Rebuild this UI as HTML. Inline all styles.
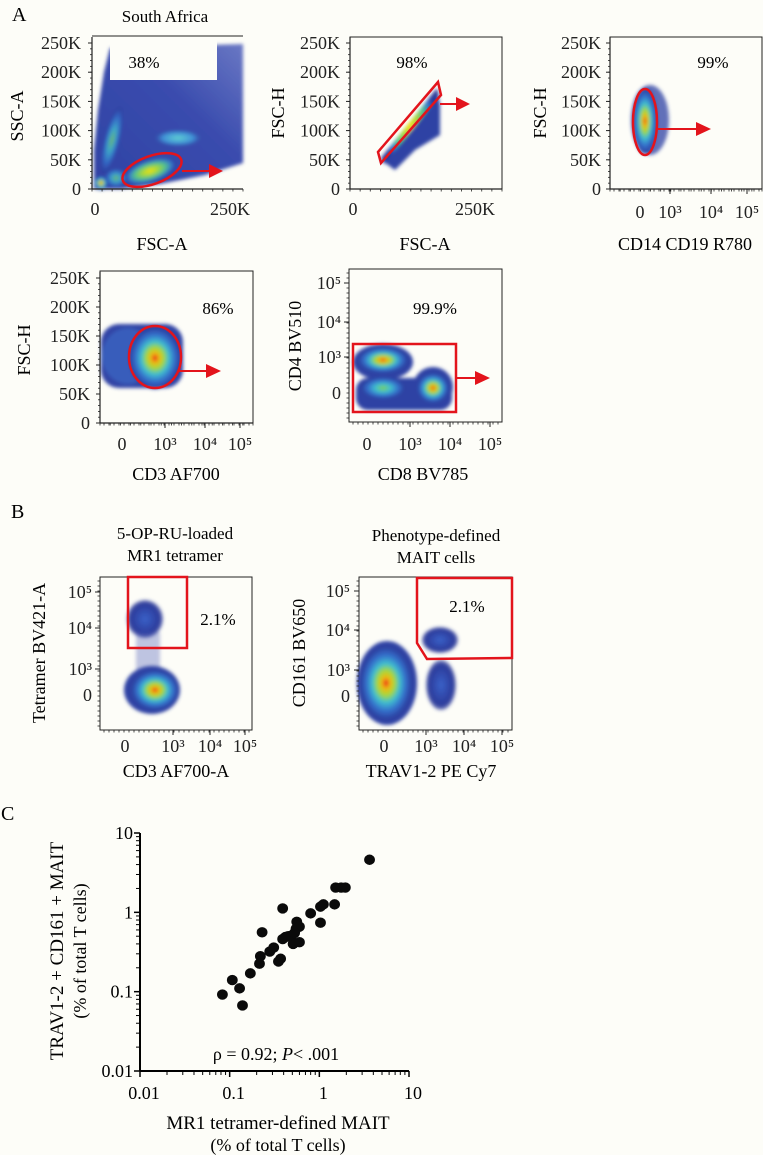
<!DOCTYPE html>
<html><head><meta charset="utf-8">
<style>
html,body{margin:0;padding:0;background:#fdfdf8;}
svg{display:block;font-family:"Liberation Serif",serif;}
</style></head>
<body>
<svg id="fig" width="763" height="1155" viewBox="0 0 763 1155" xmlns="http://www.w3.org/2000/svg">
<defs>
  <filter id="blur" x="-20%" y="-20%" width="140%" height="140%"><feGaussianBlur stdDeviation="1.8"/></filter>
  <radialGradient id="heat"><stop offset="0" stop-color="#e8141c"/><stop offset="0.15" stop-color="#f0b810"/><stop offset="0.33" stop-color="#a8d838"/><stop offset="0.52" stop-color="#40c0d0"/><stop offset="0.75" stop-color="#3470cc"/><stop offset="1" stop-color="#2b3a9a"/></radialGradient>
  <radialGradient id="yel"><stop offset="0" stop-color="#f5e010"/><stop offset="0.3" stop-color="#a8d838"/><stop offset="0.6" stop-color="#50c090"/><stop offset="0.85" stop-color="#3470cc"/><stop offset="1" stop-color="#2b3a9a"/></radialGradient>
  <radialGradient id="cool"><stop offset="0" stop-color="#80d050"/><stop offset="0.35" stop-color="#40c0d0"/><stop offset="0.7" stop-color="#3470cc"/><stop offset="1" stop-color="#2b3a9a"/></radialGradient>
  <radialGradient id="cyan"><stop offset="0" stop-color="#60d0d0"/><stop offset="0.6" stop-color="#4090d8"/><stop offset="1" stop-color="#2b3a9a" stop-opacity="0"/></radialGradient>
  <radialGradient id="blue"><stop offset="0" stop-color="#3a62c8"/><stop offset="0.8" stop-color="#2b3a9a"/><stop offset="1" stop-color="#2b3a9a" stop-opacity="0.6"/></radialGradient>
  <linearGradient id="fade" x1="0" y1="1" x2="1" y2="0"><stop offset="0" stop-color="#2f42a4"/><stop offset="0.6" stop-color="#3a4cae"/><stop offset="1" stop-color="#6a78c4"/></linearGradient>
</defs>

<text x="12" y="21" font-size="20">A</text>
<text x="165" y="22" font-size="17" text-anchor="middle">South Africa</text>
<text x="11" y="518" font-size="20">B</text>
<text x="1" y="820" font-size="20">C</text>

<!-- Plot 1 -->
<g>
  <line x1="92" y1="36" x2="243" y2="36" stroke="#222" stroke-width="1"/>
  <g filter="url(#blur)">
    <polygon points="94,189 94,150 98,110 104,72 110,48 243,44 243,163 205,175 160,184 120,189" fill="url(#fade)"/>
    <ellipse cx="112" cy="140" rx="8" ry="34" transform="rotate(14 112 140)" fill="url(#cool)" opacity="0.8"/>
    <ellipse cx="178" cy="138" rx="26" ry="9" fill="url(#cyan)"/>
    <ellipse cx="150" cy="171" rx="27" ry="11" transform="rotate(-18 150 171)" fill="url(#yel)"/>
    <ellipse cx="116" cy="178" rx="12" ry="10" fill="url(#cool)" opacity="0.8"/>
    <circle cx="101" cy="183" r="7" fill="url(#heat)"/>
  </g>
  <rect x="110" y="37" width="107" height="43" fill="#fdfdf8"/>
  <text x="144" y="68" font-size="17" text-anchor="middle">38%</text>
  <ellipse cx="152" cy="170" rx="31" ry="14" transform="rotate(-20 152 170)" fill="none" stroke="#e3141c" stroke-width="2.5"/>
  <g><line x1="182" y1="171" x2="211" y2="171" stroke="#e3141c" stroke-width="2"/><polygon points="209,164 223,171 209,178" fill="#e3141c"/></g>
  <text transform="translate(23 116) rotate(-90)" font-size="18" text-anchor="middle">SSC-A</text>
  <text x="162" y="250" font-size="18" text-anchor="middle">FSC-A</text>
</g>

<!-- Plot 2 -->
<g>
  <rect x="350" y="37" width="152" height="152" fill="none" stroke="#222" stroke-width="1"/>
  <g filter="url(#blur)">
    <polygon points="381,160 437,92 440,104 440,135 415,150 395,170" fill="#2f42a4"/>
    <polygon points="381,158 437,88 439,96 384,164" fill="url(#yel)"/>
  </g>
  <polygon points="378,152 438,82 441,95 381,163" fill="none" stroke="#e3141c" stroke-width="2.5"/>
  <g><line x1="440" y1="104" x2="458" y2="104" stroke="#e3141c" stroke-width="2"/><polygon points="456,97 470,104 456,111" fill="#e3141c"/></g>
  <text x="412" y="68" font-size="17" text-anchor="middle">98%</text>
  <text transform="translate(284 113) rotate(-90)" font-size="18" text-anchor="middle">FSC-H</text>
  <text x="425" y="250" font-size="18" text-anchor="middle">FSC-A</text>
</g>

<!-- Plot 3 -->
<g>
  <rect x="610" y="37" width="152" height="152" fill="none" stroke="#222" stroke-width="1"/>
  <g filter="url(#blur)">
    <ellipse cx="650" cy="120" rx="19" ry="35" fill="#2f42a4" opacity="0.75"/>
    <ellipse cx="645" cy="121" rx="12" ry="33" fill="url(#heat)"/>
  </g>
  <ellipse cx="645" cy="122" rx="12" ry="33" fill="none" stroke="#e3141c" stroke-width="2.5"/>
  <g><line x1="657" y1="129" x2="698" y2="129" stroke="#e3141c" stroke-width="2"/><polygon points="696,122 711,129 696,136" fill="#e3141c"/></g>
  <text x="713" y="68" font-size="17" text-anchor="middle">99%</text>
  <text transform="translate(546 113) rotate(-90)" font-size="18" text-anchor="middle">FSC-H</text>
  <text x="685" y="250" font-size="18" text-anchor="middle">CD14 CD19 R780</text>
</g>

<!-- Plot 4 -->
<g>
  <rect x="100" y="271" width="153" height="152" fill="none" stroke="#222" stroke-width="1"/>
  <g filter="url(#blur)">
    <rect x="101" y="324" width="82" height="64" rx="18" fill="#3344a6"/>
    <ellipse cx="128" cy="356" rx="26" ry="28" fill="#3a72cc" opacity="0.55"/>
    <ellipse cx="155" cy="358" rx="26" ry="31" fill="url(#heat)"/>
  </g>
  <ellipse cx="155" cy="357" rx="26" ry="31" fill="none" stroke="#e3141c" stroke-width="2.5"/>
  <g><line x1="178" y1="371" x2="208" y2="371" stroke="#e3141c" stroke-width="2"/><polygon points="206,364 221,371 206,378" fill="#e3141c"/></g>
  <text x="218" y="314" font-size="17" text-anchor="middle">86%</text>
  <text transform="translate(30 350) rotate(-90)" font-size="18" text-anchor="middle">FSC-H</text>
  <text x="176" y="480" font-size="18" text-anchor="middle">CD3 AF700</text>
</g>

<!-- Plot 5 -->
<g>
  <rect x="349" y="269" width="153" height="153" fill="none" stroke="#222" stroke-width="1"/>
  <g filter="url(#blur)">
    <ellipse cx="383" cy="362" rx="30" ry="18" fill="#2f42a4"/>
    <rect x="356" y="378" width="96" height="32" rx="12" fill="#2f42a4"/>
    <ellipse cx="433" cy="387" rx="20" ry="20" fill="#2f42a4"/>
    <ellipse cx="383" cy="360" rx="25" ry="13" fill="url(#heat)"/>
    <ellipse cx="383" cy="388" rx="22" ry="11" fill="url(#cool)"/>
    <ellipse cx="433" cy="388" rx="16" ry="15" fill="url(#heat)"/>
  </g>
  <rect x="353" y="344" width="103" height="68" fill="none" stroke="#e3141c" stroke-width="2.5"/>
  <g><line x1="456" y1="378" x2="477" y2="378" stroke="#e3141c" stroke-width="2"/><polygon points="475,371 490,378 475,385" fill="#e3141c"/></g>
  <text x="435" y="314" font-size="17" text-anchor="middle">99.9%</text>
  <text transform="translate(301 346) rotate(-90)" font-size="18" text-anchor="middle">CD4 BV510</text>
  <text x="423" y="480" font-size="18" text-anchor="middle">CD8 BV785</text>
</g>

<!-- Plot 6 -->
<g>
  <text x="175" y="539" font-size="17" text-anchor="middle">5-OP-RU-loaded</text>
  <text x="175" y="561" font-size="17" text-anchor="middle">MR1 tetramer</text>
  <rect x="100" y="577" width="152" height="153" fill="none" stroke="#222" stroke-width="1"/>
  <g filter="url(#blur)">
    <ellipse cx="145" cy="619" rx="18" ry="19" fill="url(#blue)"/>
    <rect x="136" y="632" width="24" height="38" fill="#4a5ab4" opacity="0.35"/>
    <ellipse cx="152" cy="690" rx="28" ry="24" fill="#2f42a4"/>
    <ellipse cx="155" cy="690" rx="24" ry="20" fill="url(#heat)"/>
  </g>
  <rect x="128" y="577" width="59" height="71" fill="none" stroke="#e3141c" stroke-width="2.5"/>
  <text x="218" y="625" font-size="17" text-anchor="middle">2.1%</text>
  <text transform="translate(45 653) rotate(-90)" font-size="18" text-anchor="middle">Tetramer BV421-A</text>
  <text x="176" y="777" font-size="18" text-anchor="middle">CD3 AF700-A</text>
</g>

<!-- Plot 7 -->
<g>
  <text x="436" y="541" font-size="17" text-anchor="middle">Phenotype-defined</text>
  <text x="436" y="563" font-size="17" text-anchor="middle">MAIT cells</text>
  <rect x="359" y="577" width="153" height="153" fill="none" stroke="#222" stroke-width="1"/>
  <g filter="url(#blur)">
    <ellipse cx="440" cy="640" rx="18" ry="13" fill="url(#blue)"/>
    <ellipse cx="441" cy="685" rx="15" ry="25" fill="url(#blue)"/>
    <ellipse cx="387" cy="683" rx="30" ry="42" fill="#2f42a4"/>
    <ellipse cx="386" cy="683" rx="26" ry="37" fill="url(#heat)"/>
  </g>
  <polygon points="417,578 512,578 512,658 427,659 417,643" fill="none" stroke="#e3141c" stroke-width="2.5"/>
  <text x="467" y="612" font-size="17" text-anchor="middle">2.1%</text>
  <text transform="translate(305 653) rotate(-90)" font-size="18" text-anchor="middle">CD161 BV650</text>
  <text x="431" y="777" font-size="18" text-anchor="middle">TRAV1-2 PE Cy7</text>
</g>

<!-- Panel C -->
<g id="panelC">
  <text transform="translate(63 951) rotate(-90)" font-size="19" text-anchor="middle">TRAV1-2 + CD161 + MAIT</text>
  <text transform="translate(86 951) rotate(-90)" font-size="18" text-anchor="middle">(% of total T cells)</text>
  <text x="278" y="1129" font-size="19" text-anchor="middle">MR1 tetramer-defined MAIT</text>
  <text x="278" y="1151" font-size="18" text-anchor="middle">(% of total T cells)</text>
  <text x="276" y="1060" font-size="18" text-anchor="middle">ρ = 0.92; <tspan font-style="italic">P</tspan>&lt; .001</text>
</g>
</svg>

<script>
const xVals = [3.63,1.52,1.75,1.95,1.48,1.03,1.11,0.80,1.03,0.39,0.56,0.60,0.23,0.42,0.49,0.39,0.51,0.60,0.31,0.28,0.37,0.35,0.22,0.215,0.17,0.107,0.129,0.083,0.139,0.55,0.45,0.53];
const yVals = [4.6,2.05,2.05,2.05,1.26,1.18,1.26,0.97,0.74,1.12,0.76,0.66,0.56,0.49,0.51,0.46,0.40,0.42,0.36,0.32,0.26,0.24,0.28,0.225,0.17,0.14,0.11,0.092,0.067,0.62,0.50,0.55];
const decades = [0.01,0.1,1,10];
const decadeLabels = ["0.01","0.1","1","10"];
const linTickLabels = ["0","50K","100K","150K","200K","250K"];
const logTickLabels = ["0","10³","10⁴","10⁵"];

const NS = "http://www.w3.org/2000/svg";
const svg = document.getElementById("fig");
const panelC = document.getElementById("panelC");
function mk(tag, attrs, parent){
  const e = document.createElementNS(NS, tag);
  for (const k in attrs) e.setAttribute(k, attrs[k]);
  (parent||svg).appendChild(e);
  return e;
}

const X0=140, X1=409, Y0=1071, Y1=833;
function sx(v){ return X0 + (Math.log10(v)+2)/3*(X1-X0); }
function sy(v){ return Y0 - (Math.log10(v)+2)/3*(Y0-Y1); }

const xAxis = mk("line",{x1:X0,y1:Y0,x2:X1,y2:Y0,stroke:"#000","stroke-width":2},panelC);


const yAxis = mk("line",{x1:X0,y1:Y0,x2:X0,y2:Y1,stroke:"#000","stroke-width":2},panelC);



decades.forEach((d,i)=>{
  const tx = mk("line",{x1:sx(d),y1:Y0,x2:sx(d),y2:Y0+6,stroke:"#000","stroke-width":1.5},panelC);
  
  
  const ty = mk("line",{x1:X0,y1:sy(d),x2:X0-6,y2:sy(d),stroke:"#000","stroke-width":1.5},panelC);
  
  
  const lx = mk("text",{x:sx(d)+4,y:Y0+28,"font-size":18,"text-anchor":"middle"},panelC);
  lx.textContent = decadeLabels[i];
  
  
  const ly = mk("text",{x:X0-7,y:sy(d)+6,"font-size":18,"text-anchor":"end"},panelC);
  ly.textContent = decadeLabels[i];
  
  
  if (i<decades.length-1){
    for(let m=2;m<=9;m++){
      const v=d*m;
      const mx = mk("line",{x1:sx(v),y1:Y0,x2:sx(v),y2:Y0+4,stroke:"#000","stroke-width":1},panelC);
      
      
      const my = mk("line",{x1:X0,y1:sy(v),x2:X0-4,y2:sy(v),stroke:"#000","stroke-width":1},panelC);
      
      
    }
  }
});
xVals.forEach((v,i)=>{
  const c = mk("ellipse",{cx:sx(v),cy:sy(yVals[i]),rx:5.4,ry:5.2,fill:"#0a0a0a"},panelC);
  
  
});

function linAxes(left,bottom,right,top0,yLabX,xLab0,xLab250){
  const g = mk("g",{});
  
  
  mk("line",{x1:left,y1:bottom,x2:left,y2:top0-6,stroke:"#222","stroke-width":1.2},g);
  mk("line",{x1:left,y1:bottom,x2:right,y2:bottom,stroke:"#222","stroke-width":1.2},g);
  const step=(bottom-top0)/5;
  linTickLabels.forEach((t,i)=>{
    const y=bottom-i*step;
    const lab = mk("text",{x:yLabX,y:y+6,"font-size":18,"text-anchor":"end",fill:"#222"},g);
    lab.textContent=t;
    
    
    mk("line",{x1:left-4,y1:y,x2:left,y2:y,stroke:"#222","stroke-width":1},g);
  });
  for(let y=bottom;y>top0;y-=step/5) mk("line",{x1:left-2,y1:y,x2:left,y2:y,stroke:"#222","stroke-width":0.8},g);
  for(let x=left;x<right;x+=(right-left)/15) mk("line",{x1:x,y1:bottom,x2:x,y2:bottom+2.5,stroke:"#222","stroke-width":0.8},g);
  if(xLab0){
    const a=mk("text",{x:xLab0,y:bottom+26,"font-size":18,"text-anchor":"middle",fill:"#222"},g); a.textContent="0";
    
    
    const b=mk("text",{x:xLab250,y:bottom+26,"font-size":18,"text-anchor":"middle",fill:"#222"},g); b.textContent="250K";
    
    
  }
}
function logX(bottom,xs,left,right,labY){
  const g = mk("g",{});
  
  
  logTickLabels.forEach((t,i)=>{
    const lab=mk("text",{x:xs[i],y:labY,"font-size":18,"text-anchor":"middle",fill:"#222"},g);
    lab.textContent=t;
    
    
  });
  for(let x=left+4;x<right;x+=5) mk("line",{x1:x,y1:bottom,x2:x,y2:bottom+2.5,stroke:"#222","stroke-width":0.8},g);
  xs.slice(1).forEach(x=>mk("line",{x1:x,y1:bottom,x2:x,y2:bottom+5,stroke:"#222","stroke-width":1},g));
}
function logY(left,ys,labX,top,bottom){
  const g = mk("g",{});
  
  
  logTickLabels.forEach((t,i)=>{
    const lab=mk("text",{x:labX,y:ys[i]+6,"font-size":18,"text-anchor":"end",fill:"#222"},g);
    lab.textContent=t;
    
    
  });
  for(let y=top+4;y<bottom;y+=5) mk("line",{x1:left-2.5,y1:y,x2:left,y2:y,stroke:"#222","stroke-width":0.8},g);
  ys.slice(1).forEach(y=>mk("line",{x1:left-5,y1:y,x2:left,y2:y,stroke:"#222","stroke-width":1},g));
}
linAxes(92,189,243,43,81,95,230);
linAxes(350,189,502,43,340,353,475);
linAxes(610,189,762,43,601,null,null);
logX(189,[640,670,711,747],610,762,218);
linAxes(100,423,253,278,90,null,null);
logX(423,[122,165,205,240],100,253,450);
logY(349,[393,357,322,283],341,269,422);
logX(422,[367,410,450,490],349,502,450);
logY(100,[695,669,628,592],92,577,730);
logX(730,[125,173,210,245],100,252,752);
logY(359,[696,670,630,591],350,577,730);
logX(730,[384,426,464,502],359,512,752);
</script>
</body></html>
